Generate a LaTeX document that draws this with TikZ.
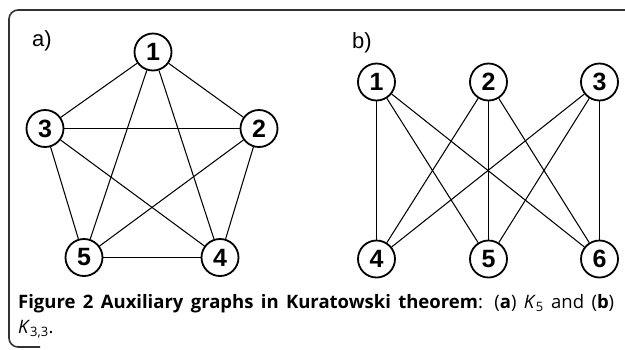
\documentclass[tikz,border=0pt]{standalone}
\usepackage{fontspec}
\setmainfont{Open Sans}
\newfontfamily\arialfont{Liberation Sans}
\begin{document}
\begin{tikzpicture}[x=1pt,y=-1pt,
  vtx/.style={circle,draw=black,line width=1.8pt,minimum size=37pt,inner sep=0pt,fill=white,font=\arialfont\bfseries\fontsize{25}{25}\selectfont},
  edge/.style={line width=1.05pt,black},
  lbl/.style={font=\arialfont\fontsize{22}{22}\selectfont,inner sep=0pt},
  captext/.style={anchor=base west,inner sep=0pt,font=\fontsize{18.5}{18.5}\selectfont}]
\useasboundingbox (0,0) rectangle (625,349);
\draw[line width=1.6pt,draw=black!80,rounded corners=9pt] (660,10) -- (9,10) -- (9,347) -- (40,347);
\node[lbl,anchor=base west] (la) at (32,46) {a)};
\node[lbl,anchor=base west] (lb) at (352,48) {b)};
% K5
\node[vtx] (a1) at (153,52) {1};
\node[vtx] (a2) at (259,128.5) {2};
\node[vtx] (a3) at (45,128.5) {3};
\node[vtx] (a4) at (220,257.5) {4};
\node[vtx] (a5) at (84,257.5) {5};
\foreach \u/\v in {1/2,1/3,1/4,1/5,2/3,2/4,2/5,3/4,3/5,4/5}
  \draw[edge] (a\u) -- (a\v);
% K33
\node[vtx] (b1) at (376.5,82) {1};
\node[vtx] (b2) at (488.5,82) {2};
\node[vtx] (b3) at (599.5,82) {3};
\node[vtx] (b4) at (376.5,259) {4};
\node[vtx] (b5) at (488.5,259) {5};
\node[vtx] (b6) at (599.5,259) {6};
\foreach \u in {1,2,3}
  \foreach \v in {4,5,6}
    \draw[edge] (b\u) -- (b\v);
\node[captext] (cap1) at (18,308)
  {\makebox[596pt][s]{\textbf{Figure 2 Auxiliary graphs in Kuratowski theorem}: (\textbf{a}) \textit{K}\textsubscript{5} and (\textbf{b})}};
\node[captext] (cap2) at (18,333)
  {\textit{K}\textsubscript{3,3}.};
\end{tikzpicture}
\end{document}
